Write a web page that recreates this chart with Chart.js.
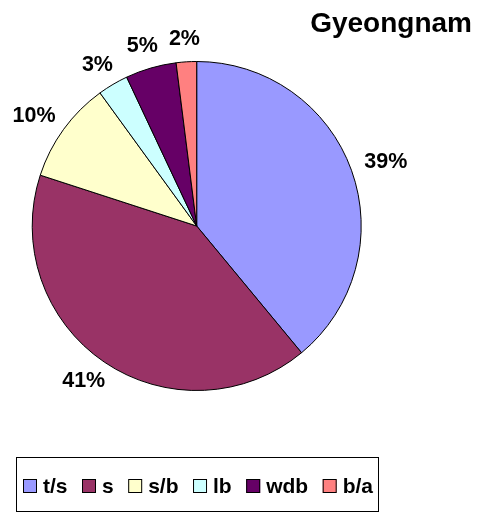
<!DOCTYPE html>
<html>
<head>
<meta charset="utf-8">
<script src="https://cdn.jsdelivr.net/npm/chart.js@4/dist/chart.umd.min.js"></script>
<style>
  html, body { margin: 0; padding: 0; background: #fff; }
  #wrap { width: 481px; height: 514px; position: relative; }
</style>
</head>
<body>
<div id="wrap"><canvas id="pie-chart" width="481" height="514"></canvas></div>
<script>
const chartTitle = "Gyeongnam";
const categories = ["t/s", "s", "s/b", "lb", "wdb", "b/a"];
const shares = [39, 41, 10, 3, 5, 2];
const sliceColors = ["#9999FF", "#993366", "#FFFFCC", "#CCFFFF", "#660066", "#FF8080"];

const FONT = "'Liberation Sans', Arial, sans-serif";

// draws the title, the percent labels and the boxed legend
const textPlugin = {
  id: "excelText",
  afterDraw(chart) {
    const ctx = chart.ctx;
    const meta = chart.getDatasetMeta(0);
    ctx.save();
    ctx.fillStyle = "#000";

    // title
    ctx.font = "bold 28px " + FONT;
    ctx.textAlign = "right";
    ctx.textBaseline = "alphabetic";
    ctx.fillText(chartTitle, 472, 32);

    // percent labels outside each slice: anchor just outside the rim,
    // text box pushed outward along the slice direction
    ctx.font = "bold 21.5px " + FONT;
    ctx.textAlign = "center";
    ctx.textBaseline = "middle";
    meta.data.forEach((arc, i) => {
      const text = shares[i] + "%";
      const w = ctx.measureText(text).width;
      const h = 16;
      const mid = (arc.startAngle + arc.endAngle) / 2;
      const ux = Math.cos(mid);
      const uy = Math.sin(mid);
      const dist = arc.outerRadius + 15;
      const x = arc.x + ux * dist + ux * w / 2;
      const y = arc.y + uy * dist + uy * h / 2;
      ctx.fillText(text, x, y);
    });

    // legend box
    ctx.strokeStyle = "#000";
    ctx.lineWidth = 1;
    ctx.strokeRect(16.5, 457.5, 362, 54);

    ctx.font = "bold 21px " + FONT;
    ctx.textAlign = "left";
    let x = 23;
    const y = 486;
    categories.forEach((name, i) => {
      ctx.fillStyle = sliceColors[i];
      ctx.fillRect(x, y - 7, 14, 14);
      ctx.strokeStyle = "#000";
      ctx.strokeRect(x + 0.5, y - 6.5, 13, 13);
      ctx.fillStyle = "#000";
      ctx.fillText(name, x + 20, y + 1);
      x += 20 + ctx.measureText(name).width + 14.5;
    });
    ctx.restore();
  },
};

const ctx = document.getElementById("pie-chart");

new Chart(ctx, {
  type: "pie",
  data: {
    labels: categories,
    datasets: [
      {
        data: shares,
        backgroundColor: sliceColors,
        borderColor: "#000",
        borderWidth: 1,
      },
    ],
  },
  options: {
    responsive: false,
    animation: false,
    radius: 164.5,
    layout: {
      padding: { left: 20, right: 107.6, top: 50, bottom: 112 },
    },
    plugins: {
      legend: { display: false },
      title: { display: false },
      tooltip: { enabled: false },
    },
  },
  plugins: [textPlugin],
});
</script>
</body>
</html>
